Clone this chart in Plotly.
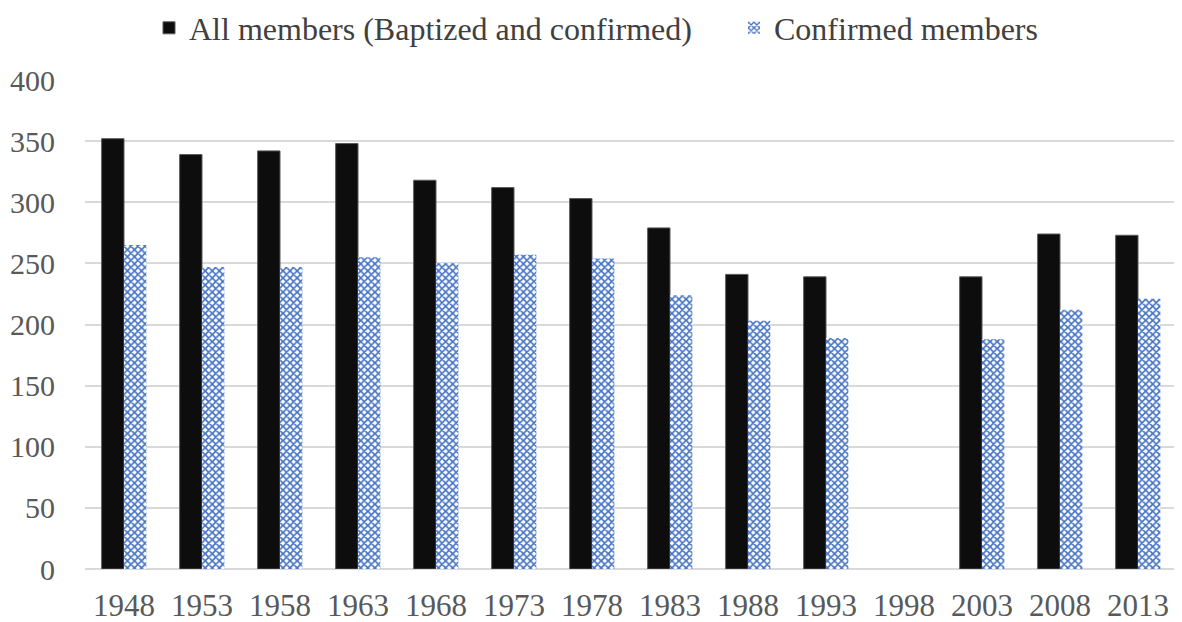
import plotly.graph_objects as go

years = ["1948", "1953", "1958", "1963", "1968", "1973", "1978", "1983",
         "1988", "1993", "1998", "2003", "2008", "2013"]
all_members = [352, 339, 342, 348, 318, 312, 303, 279, 241, 239, None, 239, 274, 273]
confirmed = [265, 247, 247, 255, 250, 257, 254, 224, 203, 189, None, 188, 212, 221]
y_ticks = [0, 50, 100, 150, 200, 250, 300, 350, 400]

fig = go.Figure()
fig.add_trace(go.Bar(
    x=years, y=all_members, name="All members (Baptized and confirmed)",
    marker=dict(color="#0D0D0D", line=dict(color="#595959", width=1)),
    legend="legend",
))
fig.add_trace(go.Bar(
    x=years, y=confirmed, name="Confirmed members",
    marker=dict(color="white", line=dict(width=0),
                pattern=dict(shape="x", fgcolor="#4472C4", bgcolor="white",
                             size=5, solidity=0.55, fgopacity=1)),
    legend="legend2",
))

leg_common = dict(orientation="h", xanchor="left", yanchor="middle",
                  yref="container", xref="container", maxheight=100,
                  font=dict(size=32, color="#404040"), bgcolor="rgba(0,0,0,0)")

fig.update_layout(
    width=1182, height=622,
    margin=dict(l=77, r=13, t=72, b=61, autoexpand=False),
    paper_bgcolor="white", plot_bgcolor="white",
    barmode="group", bargap=0.427, bargroupgap=0,
    font=dict(family="Liberation Serif, Times New Roman, serif", size=30, color="#595959"),
    legend=dict(x=141 / 1182, y=1 - 20 / 622, **leg_common),
    legend2=dict(x=726 / 1182, y=1 - 20 / 622, **leg_common),
    showlegend=True,
)
fig.update_xaxes(type="category", showgrid=False, showline=False, ticks="",
                 automargin=False, ticklabelstandoff=15,
                 tickfont=dict(size=31, color="#595959"))
fig.update_yaxes(range=[0, 400], tickvals=y_ticks, showgrid=True, gridcolor="#D9D9D9",
                 gridwidth=1.5, zeroline=True, zerolinecolor="#D9D9D9", zerolinewidth=1.5,
                 showline=False, ticks="", ticklabelstandoff=29, automargin=False,
                 tickfont=dict(size=30, color="#595959"))

fig.write_html("out.html")
